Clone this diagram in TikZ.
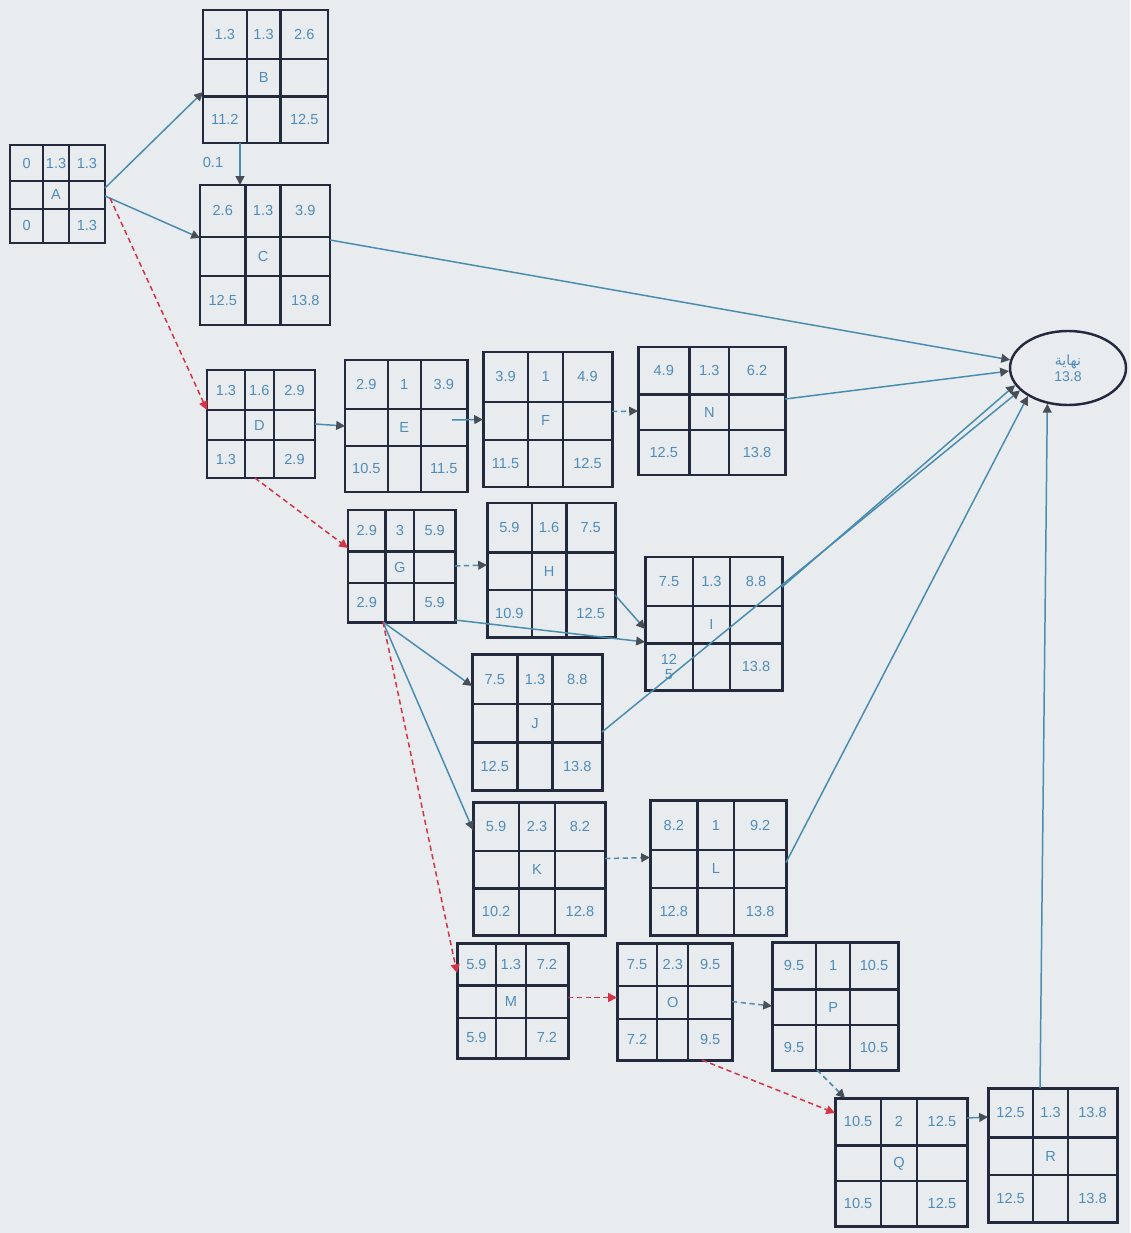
\documentclass[tikz,border=0pt]{standalone}
\usepackage{fontspec}
\setmainfont{Liberation Sans}
\newfontfamily\arabicfont[Script=Arabic]{DejaVu Sans}
\TeXXeTstate=1
\usetikzlibrary{positioning, shapes.geometric, arrows.meta, calc}
\definecolor{paperbg}{RGB}{233, 236, 238}
\definecolor{framedark}{RGB}{35, 42, 62}
\definecolor{celltextblue}{RGB}{80, 140, 186}
\definecolor{linkblue}{RGB}{74, 140, 176}
\definecolor{critred}{RGB}{212, 52, 72}
\definecolor{tipgray}{RGB}{70, 78, 88}

% activity box: id, x, y, w, h, label
\newcommand{\actbox}[6]{%
  \def\bx{#2}\def\by{#3}\def\bw{#4}\def\bh{#5}%
  \draw[gridline] (#2+0.35*#4,#3) -- ++(0,#5) (#2+0.62*#4,#3) -- ++(0,#5)
    (#2,#3+0.37*#5) -- ++(#4,0) (#2,#3+0.65*#5) -- ++(#4,0);
  \node[actframe, minimum width=#4*0.2mm, minimum height=#5*0.2mm] (#1) at (#2+0.5*#4,#3+0.5*#5) {};
  \node[celltext] (#1-id) at (#2+0.485*#4,#3+0.51*#5) {#6};
}
% times: id, ES, duration, EF, LS, LF
\newcommand{\acttimes}[6]{%
  \node[celltext] (#1-es) at (\bx+0.175*\bw,\by+0.185*\bh) {#2};
  \node[celltext] (#1-du) at (\bx+0.485*\bw,\by+0.185*\bh) {#3};
  \node[celltext] (#1-ef) at (\bx+0.81*\bw,\by+0.185*\bh) {#4};
  \node[celltext] (#1-ls) at (\bx+0.175*\bw,\by+0.825*\bh) {#5};
  \node[celltext] (#1-lf) at (\bx+0.81*\bw,\by+0.825*\bh) {#6};
}

\begin{document}
\begin{tikzpicture}[x=0.2mm, y=-0.2mm,
    actframe/.style={draw=framedark, line width=1.7pt, inner sep=0pt, outer sep=0pt},
    gridline/.style={draw=framedark, line width=1.3pt},
    celltext/.style={font=\fontsize{8.3}{8.8}\selectfont, text=celltextblue, inner sep=0pt, align=center},
    endnode/.style={ellipse, draw=framedark, line width=1.4pt, inner sep=0pt,
      minimum width=116*0.2mm, minimum height=74*0.2mm, align=center,
      font=\fontsize{8}{9}\selectfont, text=celltextblue},
    link/.style={draw=linkblue, line width=0.85pt, -{Triangle[length=5pt, width=5pt, color=tipgray]}},
    dashlink/.style={link, densely dashed},
    crit/.style={draw=critred, line width=0.85pt, densely dashed, -{Triangle[length=5pt, width=5pt, color=critred]}}]
  \fill[paperbg] (0,0) rectangle (1130,1233);

  % Activities
  \actbox{A}{10}{145}{95}{98}{A}     \acttimes{A}{0}{1.3}{1.3}{0}{1.3}
  \actbox{B}{203}{10}{125}{133}{B}   \acttimes{B}{1.3}{1.3}{2.6}{11.2}{12.5}
  \actbox{C}{200}{185}{130}{140}{C}  \acttimes{C}{2.6}{1.3}{3.9}{12.5}{13.8}
  \actbox{D}{207}{370}{108}{108}{D}  \acttimes{D}{1.3}{1.6}{2.9}{1.3}{2.9}
  \actbox{E}{345}{360}{122}{132}{E}  \acttimes{E}{2.9}{1}{3.9}{10.5}{11.5}
  \actbox{F}{483}{352}{129}{135}{F}  \acttimes{F}{3.9}{1}{4.9}{11.5}{12.5}
  \actbox{N}{638}{347}{147}{128}{N}  \acttimes{N}{4.9}{1.3}{6.2}{12.5}{13.8}
  \actbox{G}{348}{510}{107}{112}{G}  \acttimes{G}{2.9}{3}{5.9}{2.9}{5.9}
  \actbox{H}{487}{503}{128}{134}{H}  \acttimes{H}{5.9}{1.6}{7.5}{10.9}{12.5}
  \actbox{I}{645}{557}{137}{133}{I}  \acttimes{I}{7.5}{1.3}{8.8}{12\\5}{13.8}
  \actbox{J}{472}{654}{130}{136}{J}  \acttimes{J}{7.5}{1.3}{8.8}{12.5}{13.8}
  \actbox{K}{473}{802}{132}{133}{K}  \acttimes{K}{5.9}{2.3}{8.2}{10.2}{12.8}
  \actbox{L}{650}{800}{136}{135}{L}  \acttimes{L}{8.2}{1}{9.2}{12.8}{13.8}
  \actbox{M}{457}{943}{111}{115}{M}  \acttimes{M}{5.9}{1.3}{7.2}{5.9}{7.2}
  \actbox{O}{617}{943}{115}{117}{O}  \acttimes{O}{7.5}{2.3}{9.5}{7.2}{9.5}
  \actbox{P}{772}{942}{126}{128}{P}  \acttimes{P}{9.5}{1}{10.5}{9.5}{10.5}
  \actbox{Q}{835}{1098}{132}{128}{Q} \acttimes{Q}{10.5}{2}{12.5}{10.5}{12.5}
  \actbox{R}{988}{1088}{129}{134}{R} \acttimes{R}{12.5}{1.3}{13.8}{12.5}{13.8}

  % Finish
  \node[endnode] (End) at (1068,368) {\arabicfont\beginR نهاية\endR\\13.8};
  \node[celltext] (BC-lag) at (213,162) {0.1};

  % Links
  \draw[link] ($(A.east)+(0,-6)$) -- ($(B.north west)+(0,82)$);
  \draw[link] ($(A.east)+(0,2)$) -- ($(C.north west)+(0,53)$);
  \draw[crit] ($(A.east)+(5,4)$) -- ($(D.north west)+(0,40)$);
  \draw[link] ($(B.south west)+(37,0)$) -- ($(C.north west)+(40,0)$);
  \draw[link] ($(C.north east)+(0,55)$) -- (End.172);
  \draw[link] (D.east) -- (E.west);
  \draw[link] ($(E.east)+(-15,-6)$) -- (F.west);
  \draw[dashlink] ($(F.east)+(0,-8)$) -- (N.west);
  \draw[link] ($(N.east)+(0,-12)$) -- (End.183);
  \draw[crit] ($(D.south west)+(48,0)$) -- ($(G.north west)+(0,38)$);
  \draw[dashlink] (G.east) -- ($(H.north west)+(0,62)$);
  \draw[link] ($(G.south east)+(0,-2)$) -- ($(I.north west)+(0,85)$);
  \draw[link] ($(H.east)+(0,25)$) -- ($(I.north west)+(0,72)$);
  \draw[link] ($(I.north east)+(0,30)$) -- (End.198);
  \draw[link] ($(J.east)+(0,10)$) -- (End.205);
  \draw[link] ($(G.south west)+(35,0)$) -- ($(J.north west)+(0,32)$);
  \draw[link] ($(G.south west)+(35,0)$) -- ($(K.north west)+(0,28)$);
  \draw[crit] ($(G.south west)+(35,0)$) -- ($(M.north west)+(0,30)$);
  \draw[dashlink] ($(K.east)+(0,-10)$) -- ($(L.west)+(0,-10)$);
  \draw[link] ($(L.east)+(0,-5)$) -- (End.215);
  \draw[crit] ($(M.east)+(0,-3)$) -- ($(O.west)+(0,-4)$);
  \draw[dashlink] (O.east) -- (P.west);
  \draw[crit] ($(O.south west)+(85,0)$) -- ($(Q.north west)+(0,15)$);
  \draw[dashlink] ($(P.south west)+(45,0)$) -- ($(Q.north west)+(10,0)$);
  \draw[link] ($(Q.north east)+(0,20)$) -- ($(R.north west)+(0,29)$);
  \draw[link] ($(R.north west)+(52,0)$) -- (End.240);
\end{tikzpicture}
\end{document}
